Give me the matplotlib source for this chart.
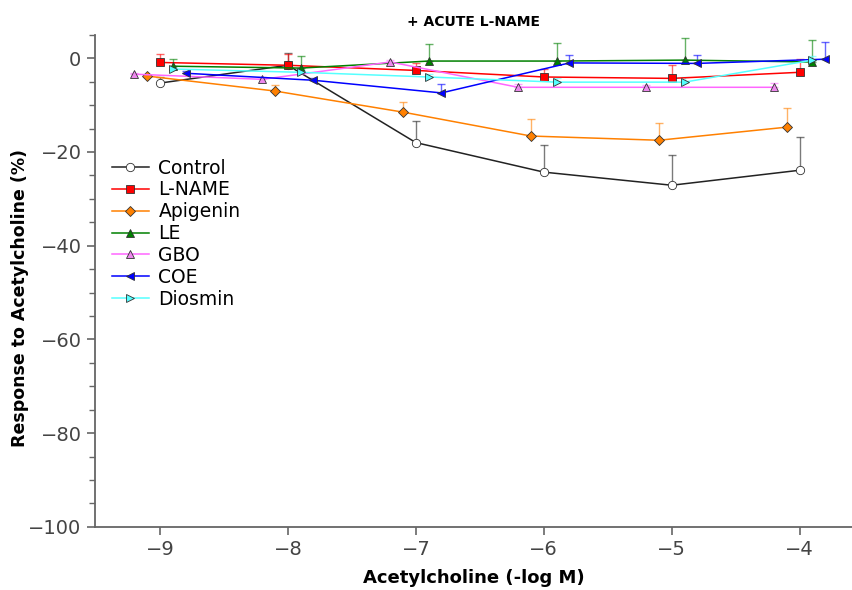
"""Concentration-response to acetylcholine after acute L-NAME, one line per group."""
import matplotlib

matplotlib.use("Agg")
import matplotlib.pyplot as plt  # noqa: E402
from matplotlib.ticker import MultipleLocator  # noqa: E402

# log concentrations (each group is nudged sideways so the error bars don't pile up)
X_CONTROL = [-9.0, -8.0, -7.0, -6.0, -5.0, -4.0]
X_LNAME = [-9.0, -8.0, -7.0, -6.0, -5.0, -4.0]
X_APIGENIN = [-9.1, -8.1, -7.1, -6.1, -5.1, -4.1]
X_LE = [-8.9, -7.9, -6.9, -5.9, -4.9, -3.9]
X_GBO = [-9.2, -8.2, -7.2, -6.2, -5.2, -4.2]
X_COE = [-8.8, -7.8, -6.8, -5.8, -4.8, -3.8]
X_DIOSMIN = [-8.9, -7.9, -6.9, -5.9, -4.9, -3.9]

# mean response (%) and upper SEM
Y_CONTROL = [-5.3, -1.5, -18.0, -24.3, -27.1, -23.9]
E_CONTROL = [1.3, 2.6, 4.6, 5.8, 6.4, 7.0]
Y_LNAME = [-0.9, -1.5, -2.6, -4.0, -4.3, -3.0]
E_LNAME = [1.8, 2.3, 1.5, 1.7, 2.8, 2.8]
Y_APIGENIN = [-3.8, -7.0, -11.5, -16.6, -17.5, -14.7]
E_APIGENIN = [0.3, 1.3, 2.2, 3.6, 3.6, 4.0]
Y_LE = [-1.7, -2.1, -0.6, -0.6, -0.4, -0.8]
E_LE = [1.5, 2.6, 3.6, 3.8, 4.7, 4.7]
Y_GBO = [-3.4, -4.5, -0.8, -6.2, -6.2, -6.2]
E_GBO = [0.3, 0.4, 0.5, 0.6, 0.5, 1.0]
Y_COE = [-3.2, -4.7, -7.4, -1.0, -1.1, -0.2]
E_COE = [0.4, 0.5, 2.0, 1.6, 1.7, 3.6]
Y_DIOSMIN = [-2.3, -3.0, -4.0, -5.1, -5.1, -0.4]
E_DIOSMIN = [0.4, 0.5, 0.6, 0.8, 1.0, 0.9]

SERIES = [
    ("Control", X_CONTROL, Y_CONTROL, E_CONTROL, "#222222", "o", "white"),
    ("L-NAME", X_LNAME, Y_LNAME, E_LNAME, "#ff0000", "s", "#ff0000"),
    ("Apigenin", X_APIGENIN, Y_APIGENIN, E_APIGENIN, "#ff8000", "D", "#ff8000"),
    ("LE", X_LE, Y_LE, E_LE, "#008000", "^", "#008000"),
    ("GBO", X_GBO, Y_GBO, E_GBO, "#ff66ff", "^", "#ee88ee"),
    ("COE", X_COE, Y_COE, E_COE, "#0000ff", "<", "#0000ff"),
    ("Diosmin", X_DIOSMIN, Y_DIOSMIN, E_DIOSMIN, "#55ffff", ">", "#55ffff"),
]
MSIZE = {"o": 6, "s": 6, "D": 5, "^": 5.5, "<": 5.5, ">": 5.5}

fig = plt.figure(figsize=(8.53, 5.90), dpi=100)
ax = fig.add_axes([0.111, 0.107, 0.888, 0.834])

for name, x, y, err, color, marker, face in SERIES:
    ax.errorbar(x, y, yerr=[[0] * len(err), err], fmt="none", ecolor=color,
                elinewidth=1.0, capsize=3, capthick=1.0, alpha=0.6, zorder=2)
    ax.plot(x, y, color=color, lw=1.1, marker=marker, ms=MSIZE[marker],
            mfc=face, mec="#333333", mew=0.6, label=name, zorder=3)

ax.set_xlim(-9.51, -3.59)
ax.set_ylim(-100, 5)
ax.set_xticks([-9, -8, -7, -6, -5, -4])
ax.set_yticks([0, -20, -40, -60, -80, -100])
ax.yaxis.set_minor_locator(MultipleLocator(5))
for side in ("top", "right"):
    ax.spines[side].set_visible(False)
for side in ("left", "bottom"):
    ax.spines[side].set_color("#666666")
    ax.spines[side].set_linewidth(1.3)
ax.tick_params(axis="both", which="major", labelsize=14, labelcolor="#444444",
               color="#666666", length=6, width=1.2)
ax.tick_params(axis="y", which="minor", color="#666666", length=4, width=1.0)

ax.set_xlabel("Acetylcholine (-log M)", fontsize=13, fontweight="bold", labelpad=7)
ax.set_ylabel("Response to Acetylcholine (%)", fontsize=12.5, fontweight="bold")
ax.yaxis.set_label_coords(-0.087, 0.465)
ax.set_title("+ ACUTE L-NAME", fontsize=10, fontweight="bold", pad=6)

ax.legend(loc="upper left", bbox_to_anchor=(0.005, 0.775), frameon=False,
          fontsize=13.5, handlelength=2.0, handletextpad=0.5, labelspacing=0.15,
          borderaxespad=0.3)

fig.savefig("out.png", dpi=100)
